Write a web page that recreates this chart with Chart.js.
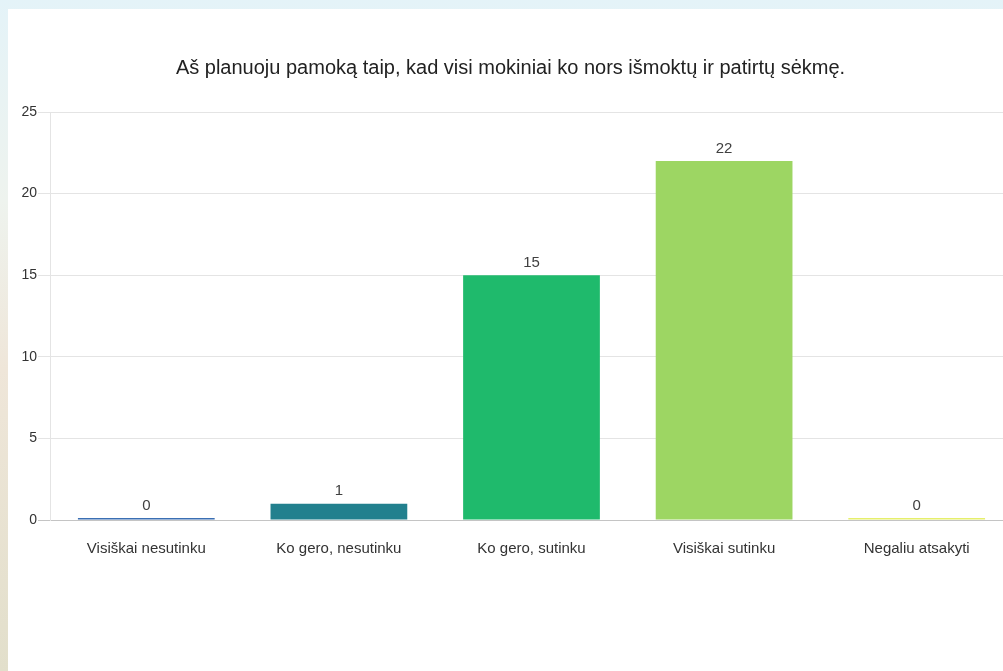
<!DOCTYPE html>
<html>
<head>
<meta charset="utf-8">
<title>Aš planuoju pamoką</title>
<script src="https://cdn.jsdelivr.net/npm/chart.js@4"></script>
<style>
    html, body { margin: 0; padding: 0; width: 1003px; height: 671px; overflow: hidden; }
    body {
        background: linear-gradient(to bottom, #e4f3f8 0%, #eef3ee 30%, #efe6d9 55%, #e2dfcb 100%);
        font-family: 'Liberation Sans', Arial, sans-serif;
    }
    #panel { position: absolute; left: 8px; top: 9px; width: 1100px; height: 700px; background: #fff; }
    #chartBox { position: absolute; left: 8px; top: 9px; width: 1020px; height: 662px; }
</style>
</head>
<body>
<div id="panel"></div>
<div id="chartBox"><canvas id="surveyChart" width="1020" height="662"></canvas></div>
<script>
// survey answers
const titleText = 'Aš planuoju pamoką taip, kad visi mokiniai ko nors išmoktų ir patirtų sėkmę.';
const answerLabels = ['Visiškai nesutinku', 'Ko gero, nesutinku', 'Ko gero, sutinku', 'Visiškai sutinku', 'Negaliu atsakyti'];
const answerCounts = [0, 1, 15, 22, 0];
const barColors = ['#3b6fb3', '#22808e', '#1fba6c', '#9dd663', '#e6ef6c'];
const yTicks = [0, 5, 10, 15, 20, 25];

const fontFamily = "'Liberation Sans', Arial, sans-serif";

// draws the count above every bar
const valueLabels = {
    id: 'valueLabels',
    afterDatasetsDraw(chart) {
        const ctx = chart.ctx;
        const meta = chart.getDatasetMeta(0);
        ctx.save();
        ctx.font = '15px ' + fontFamily;
        ctx.fillStyle = '#404040';
        ctx.textAlign = 'center';
        ctx.textBaseline = 'bottom';
        meta.data.forEach((bar, i) => {
            ctx.fillText(String(answerCounts[i]), bar.x, bar.y - 5);
        });
        ctx.restore();
    }
};

new Chart(document.getElementById('surveyChart').getContext('2d'), {
    type: 'bar',
    data: {
        labels: answerLabels,
        datasets: [{
            data: answerCounts,
            backgroundColor: barColors,
            borderWidth: 0,
            minBarLength: 2,
            barPercentage: 0.71,
            categoryPercentage: 1
        }]
    },
    options: {
        responsive: false,
        animation: false,
        layout: { padding: { left: 0, right: 15, top: 0, bottom: 101 } },
        plugins: {
            legend: { display: false },
            tooltip: { enabled: false },
            title: {
                display: true,
                text: titleText,
                color: '#222',
                font: { family: fontFamily, size: 20, weight: 'normal' },
                padding: { top: 47, bottom: 32 }
            }
        },
        scales: {
            y: {
                min: 0,
                max: 25,
                afterFit: (scale) => { scale.width = 42; },
                afterBuildTicks: (scale) => { scale.ticks = yTicks.map(v => ({ value: v })); },
                grid: {
                    color: (c) => c.tick && c.tick.value === 0 ? '#c4c4c4' : '#e4e4e4',
                    tickLength: 12
                },
                border: { display: true, color: '#e4e4e4' },
                ticks: {
                    color: '#333',
                    padding: 1,
                    font: { family: fontFamily, size: 14 }
                }
            },
            x: {
                afterFit: (scale) => { scale.height = 50; },
                grid: { display: false },
                border: { display: false },
                ticks: {
                    color: '#333',
                    padding: 12,
                    font: { family: fontFamily, size: 15 }
                }
            }
        }
    },
    plugins: [valueLabels]
});
</script>
</body>
</html>
